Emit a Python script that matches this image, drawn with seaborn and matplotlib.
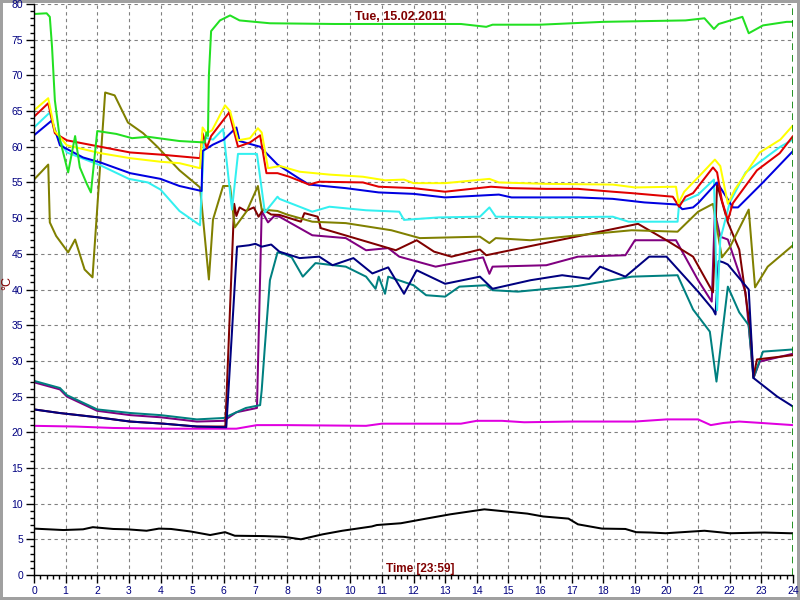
import matplotlib
matplotlib.use('Agg')
import matplotlib.pyplot as plt
from matplotlib.ticker import MultipleLocator
import seaborn as sns

# Werte (Stunde, Temperatur in °C)
green_h = [0, 0.4, 0.5, 0.57, 0.66, 0.82, 1.08, 1.3, 1.45, 1.67, 1.8, 2.0, 2.6, 3.1, 3.6, 4.6, 5.4, 5.45, 5.5,
           5.53, 5.6, 5.88, 6.2, 6.5, 7.46, 9.5, 11.5, 13.5, 14.3, 14.5, 16.0, 18.0, 20.6, 21.2, 21.5, 21.65,
           22.4, 22.6, 23.05, 23.8, 24]
green_t = [78.6, 78.7, 78.2, 74.0, 66.5, 61.0, 56.4, 61.5, 57.1, 54.8, 53.6, 62.2, 61.8, 61.2, 61.4, 60.8, 60.6,
           62.0, 61.5, 70.0, 76.2, 77.7, 78.4, 77.7, 77.3, 77.2, 77.2, 77.2, 76.8, 77.1, 77.1, 77.5, 77.7, 78.0,
           76.5, 77.2, 78.2, 75.9, 77.0, 77.5, 77.5]

yellow_h = [0, 0.45, 0.66, 1.04, 2.1, 3.04, 4.0, 4.6, 5.25, 5.33, 5.46, 5.63, 6.04, 6.2, 6.45, 6.83, 7.08, 7.2,
            7.4, 7.78, 8.4, 9.34, 10.4, 11.1, 11.7, 12.0, 13.0, 14.4, 14.7, 16.2, 18.3, 19.0, 20.3, 20.38, 20.56,
            21.06, 21.53, 21.7, 21.94, 22.16, 22.95, 23.6, 24]
yellow_t = [65.1, 66.8, 62.2, 60.2, 59.1, 58.4, 57.9, 57.7, 57.0, 62.7, 61.9, 62.3, 65.8, 65.0, 60.9, 61.2, 62.6,
            62.0, 57.0, 57.3, 56.5, 56.1, 55.8, 55.3, 55.4, 54.9, 54.9, 55.5, 55.0, 54.8, 54.7, 54.3, 54.4, 52.1,
            53.7, 56.0, 58.2, 57.3, 52.0, 54.0, 59.2, 61.0, 63.0]

red_h = [0, 0.45, 0.66, 1.04, 2.1, 3.04, 4.0, 5.25, 5.33, 5.46, 5.6, 6.17, 6.45, 6.83, 7.15, 7.35, 7.7, 8.07,
         8.7, 9.02, 10.4, 10.9, 12.0, 13.0, 14.45, 15.1, 16.2, 17.2, 18.3, 18.9, 20.2, 20.4, 20.6, 20.84, 21.47,
         21.6, 21.75, 21.94, 22.1, 22.86, 23.58, 24]
red_t = [64.2, 66.1, 61.9, 60.9, 60.0, 59.2, 58.9, 58.4, 61.9, 59.8, 61.5, 64.8, 60.0, 60.6, 61.6, 56.3, 56.3,
         55.8, 54.7, 55.1, 55.0, 54.4, 54.2, 53.7, 54.4, 54.2, 54.1, 54.1, 53.7, 53.5, 53.0, 51.6, 53.0, 53.5,
         57.1, 56.4, 52.5, 49.7, 52.1, 56.7, 59.1, 61.5]

cyan_h = [0, 0.5, 0.66, 1.04, 2.1, 3.0, 3.6, 4.0, 4.6, 5.25, 5.38, 5.66, 5.98, 6.26, 6.45, 7.05, 7.3, 7.7, 7.76,
          8.8, 9.34, 10.5, 11.55, 11.7, 12.8, 14.1, 14.4, 14.6, 16.2, 18.3, 18.8, 20.35, 20.4, 21.0, 21.5, 21.6,
          21.7, 22.0, 22.5, 23.6, 24]
cyan_t = [62.7, 64.8, 62.0, 59.2, 57.4, 55.5, 55.0, 54.0, 51.0, 49.0, 61.3, 61.0, 62.5, 51.2, 59.0, 59.0, 50.8,
          53.0, 52.7, 50.9, 51.6, 51.1, 50.9, 49.75, 50.1, 50.2, 51.5, 50.2, 50.1, 50.2, 49.5, 49.5, 52.1, 53.3,
          55.4, 37.1, 47.0, 52.2, 56.4, 60.0, 61.0]

blue_h = [0, 0.57, 0.82, 1.55, 2.1, 3.04, 4.0, 4.6, 5.3, 5.33, 5.66, 6.0, 6.4, 6.5, 7.15, 7.7, 8.4, 8.7, 9.86,
          10.9, 12.0, 13.0, 14.7, 15.1, 17.2, 18.3, 19.3, 20.35, 20.5, 20.84, 21.0, 21.6, 22.1, 22.26, 23.05, 24]
blue_t = [61.6, 63.7, 60.2, 58.5, 57.8, 56.3, 55.5, 54.5, 53.8, 59.4, 60.3, 61.0, 62.7, 60.8, 60.0, 57.5, 55.5,
          54.7, 54.2, 53.6, 53.4, 52.9, 53.3, 52.9, 52.9, 52.7, 52.2, 51.9, 51.25, 51.5, 52.1, 55.0, 51.5, 51.5,
          55.0, 59.4]

olive_h = [0, 0.45, 0.5, 0.7, 1.08, 1.3, 1.6, 1.85, 2.25, 2.55, 2.97, 3.45, 3.9, 4.45, 4.6, 5.25, 5.53, 5.66,
           5.98, 6.2, 6.35, 6.73, 7.08, 7.2, 7.7, 8.0, 8.8, 9.86, 11.3, 12.2, 14.1, 14.4, 14.6, 15.7, 17.2, 18.9,
           20.35, 21.0, 21.47, 21.75, 22.0, 22.6, 22.8, 23.2, 24]
olive_t = [55.4, 57.5, 49.4, 47.5, 45.2, 47.0, 42.8, 41.7, 67.6, 67.2, 63.4, 61.9, 60.0, 57.4, 56.7, 54.3, 41.4,
           49.8, 54.5, 54.5, 48.7, 51.0, 54.5, 51.2, 51.0, 50.5, 49.5, 49.3, 48.3, 47.2, 47.4, 46.5, 47.2, 46.9,
           47.6, 48.3, 48.1, 50.9, 52.0, 44.5, 45.9, 51.2, 40.3, 43.2, 46.2]

maroon_h = [0, 0.8, 2.0, 3.04, 4.1, 5.15, 6.0, 6.05, 6.33, 6.4, 6.5, 6.7, 6.95, 7.1, 7.25, 7.5, 7.76, 8.44, 8.55,
            8.97, 9.07, 11.44, 12.1, 12.65, 13.2, 14.1, 14.3, 19.1, 20.0, 20.84, 21.47, 21.6, 21.94, 22.3, 22.65,
            22.75, 22.86, 24]
maroon_t = [23.2, 22.7, 22.1, 21.5, 21.2, 20.8, 20.8, 20.8, 52.0, 50.3, 51.5, 51.0, 51.5, 50.2, 51.2, 50.5, 50.45,
            49.5, 50.7, 50.2, 48.6, 45.5, 46.9, 45.3, 44.6, 45.6, 44.8, 49.2, 46.9, 44.6, 39.6, 54.7, 49.4, 45.6,
            34.4, 27.8, 30.2, 30.8]

purple_h = [0, 0.82, 1.04, 2.0, 3.04, 4.0, 5.15, 6.0, 6.4, 7.05, 7.2, 7.4, 7.6, 7.76, 8.8, 9.86, 10.5, 11.2,
            11.55, 12.7, 14.2, 14.4, 14.5, 16.2, 17.2, 18.7, 19.0, 20.3, 21.0, 21.43, 21.53, 21.7, 21.94, 22.5,
            22.75, 22.95, 24]
purple_t = [27.0, 26.0, 25.0, 23.0, 22.4, 22.1, 21.5, 21.6, 22.8, 23.4, 51.0, 49.4, 50.3, 50.2, 47.6, 47.2, 45.5,
            45.8, 44.6, 43.2, 44.5, 42.2, 43.2, 43.4, 44.6, 44.8, 46.9, 46.9, 41.3, 38.3, 50.8, 47.4, 47.0, 39.6,
            27.6, 29.9, 31.0]

teal_h = [0, 0.82, 1.04, 2.0, 3.04, 4.0, 5.15, 6.0, 6.7, 7.15, 7.2, 7.3, 7.46, 7.7, 7.9, 8.15, 8.5, 8.9, 9.86,
          10.5, 10.8, 10.9, 11.1, 11.2, 12.0, 12.4, 13.0, 13.45, 14.3, 14.5, 15.3, 17.2, 18.9, 20.35, 20.84,
          21.37, 21.58, 21.94, 22.3, 22.6, 22.75, 23.05, 24]
teal_t = [27.2, 26.2, 25.2, 23.2, 22.7, 22.4, 21.8, 22.0, 23.4, 23.8, 25.9, 32.0, 41.3, 45.2, 45.0, 44.5, 41.8,
          43.7, 43.2, 41.8, 40.1, 41.8, 39.4, 41.8, 40.6, 39.2, 39.0, 40.4, 40.6, 39.9, 39.7, 40.5, 41.8, 42.0,
          37.2, 34.1, 27.1, 40.4, 36.8, 35.0, 27.6, 31.3, 31.6]

navy_h = [0, 0.8, 2.0, 3.04, 4.1, 5.15, 6.08, 6.42, 6.8, 7.0, 7.2, 7.5, 7.76, 8.4, 9.02, 9.44, 10.1, 10.7, 11.2,
          11.7, 12.1, 13.0, 14.1, 14.5, 15.7, 16.7, 17.55, 17.9, 18.7, 19.45, 20.0, 21.0, 21.47, 21.55, 21.65,
          21.8, 21.94, 22.6, 22.75, 23.5, 24]
navy_t = [23.2, 22.7, 22.1, 21.5, 21.2, 20.8, 20.7, 46.0, 46.2, 46.4, 46.0, 46.3, 45.3, 44.4, 44.6, 43.4, 44.4,
          42.25, 43.1, 39.4, 42.7, 40.8, 41.8, 40.1, 41.3, 42.0, 41.5, 43.2, 41.8, 44.6, 44.6, 39.7, 37.2, 36.5,
          44.0, 43.8, 43.5, 40.0, 27.6, 25.0, 23.6]

magenta_h = [0, 1.3, 2.5, 4.1, 6.4, 7.05, 8.0, 10.5, 11.0, 13.5, 14.0, 14.8, 15.5, 17.0, 19.0, 20.0, 21.0, 21.4,
             21.8, 22.3, 23.0, 24]
magenta_t = [20.9, 20.8, 20.6, 20.5, 20.5, 21.0, 21.0, 20.9, 21.2, 21.2, 21.6, 21.6, 21.4, 21.5, 21.5, 21.8, 21.8,
             21.0, 21.3, 21.5, 21.3, 21.0]

black_h = [0, 0.93, 1.55, 1.86, 2.5, 2.95, 3.56, 3.95, 4.33, 4.95, 5.57, 6.04, 6.35, 7.28, 7.9, 8.44, 9.13, 9.75,
           10.68, 10.84, 11.6, 12.4, 13.16, 13.93, 14.24, 14.7, 15.6, 16.1, 16.9, 17.2, 17.96, 18.7, 19.04, 19.5,
           19.97, 21.2, 22.0, 23.1, 23.9, 24]
black_t = [6.5, 6.3, 6.4, 6.7, 6.45, 6.4, 6.2, 6.5, 6.45, 6.1, 5.6, 6.0, 5.5, 5.45, 5.35, 5.0, 5.7, 6.2, 6.8, 7.0,
           7.25, 7.9, 8.5, 9.0, 9.2, 9.0, 8.6, 8.2, 7.9, 7.1, 6.5, 6.45, 6.0, 5.95, 5.85, 6.2, 5.85, 5.95, 5.85, 5.85]

# Reihenfolge = Zeichenreihenfolge
series = [
    (magenta_h, magenta_t, '#e000e0'),
    (black_h, black_t, '#000000'),
    (purple_h, purple_t, '#800080'),
    (teal_h, teal_t, '#008080'),
    (maroon_h, maroon_t, '#800000'),
    (navy_h, navy_t, '#000080'),
    (olive_h, olive_t, '#808000'),
    (cyan_h, cyan_t, '#33f0f0'),
    (blue_h, blue_t, '#0000e0'),
    (red_h, red_t, '#e00000'),
    (yellow_h, yellow_t, '#ffff00'),
    (green_h, green_t, '#22e022'),
]

sns.set_style('white')
plt.rcParams['font.family'] = ['Liberation Sans', 'DejaVu Sans']

fig = plt.figure(figsize=(8, 6), dpi=100)
fig.patch.set_edgecolor('#a0a0a0')
fig.patch.set_linewidth(3)
ax = fig.add_axes([34 / 800, 25 / 600, 759 / 800, 571 / 600])

for h, t, c in series:
    sns.lineplot(x=h, y=t, color=c, linewidth=1.45, sort=False, estimator=None, legend=False, ax=ax)

ax.set_xlim(0, 24)
ax.set_ylim(0, 80)
ax.xaxis.set_major_locator(MultipleLocator(1))
ax.xaxis.set_minor_locator(MultipleLocator(0.2))
ax.yaxis.set_major_locator(MultipleLocator(5))
ax.yaxis.set_minor_locator(MultipleLocator(1))

ax.grid(True, which='major', color='#808080', linestyle=(0, (3, 3)), linewidth=0.8)
ax.set_axisbelow(True)
ax.axvline(24, color='#008000', linestyle=(0, (4, 3)), linewidth=1.2)

ax.spines['top'].set_visible(False)
ax.spines['right'].set_visible(False)
for s in ['left', 'bottom']:
    ax.spines[s].set_color('black')
    ax.spines[s].set_linewidth(1)

ax.tick_params(which='major', direction='out', length=6, width=1, color='black',
               labelcolor='#000080', labelsize=7.5, pad=2,
               left=True, bottom=True)
ax.tick_params(which='minor', direction='out', length=3, width=1, color='black',
               left=True, bottom=True)
ax.set_xlabel('')
ax.set_ylabel('')

fig.canvas.draw()
gl = ax.yaxis.get_gridlines()
gl[-1].set_visible(False)

fig.text(0.5, 1 - 17 / 600, 'Tue, 15.02.2011', color='#800000', fontweight='bold',
         fontsize=9, ha='center', va='center')
fig.text(420 / 800, 1 - 569 / 600, 'Time [23:59]', color='#800000', fontweight='bold',
         fontsize=8.5, ha='center', va='center')
fig.text(7 / 800, 1 - 283 / 600, '°C', color='#800000', rotation=90,
         fontsize=9, ha='center', va='center')

fig.savefig('out.png', dpi=100)
